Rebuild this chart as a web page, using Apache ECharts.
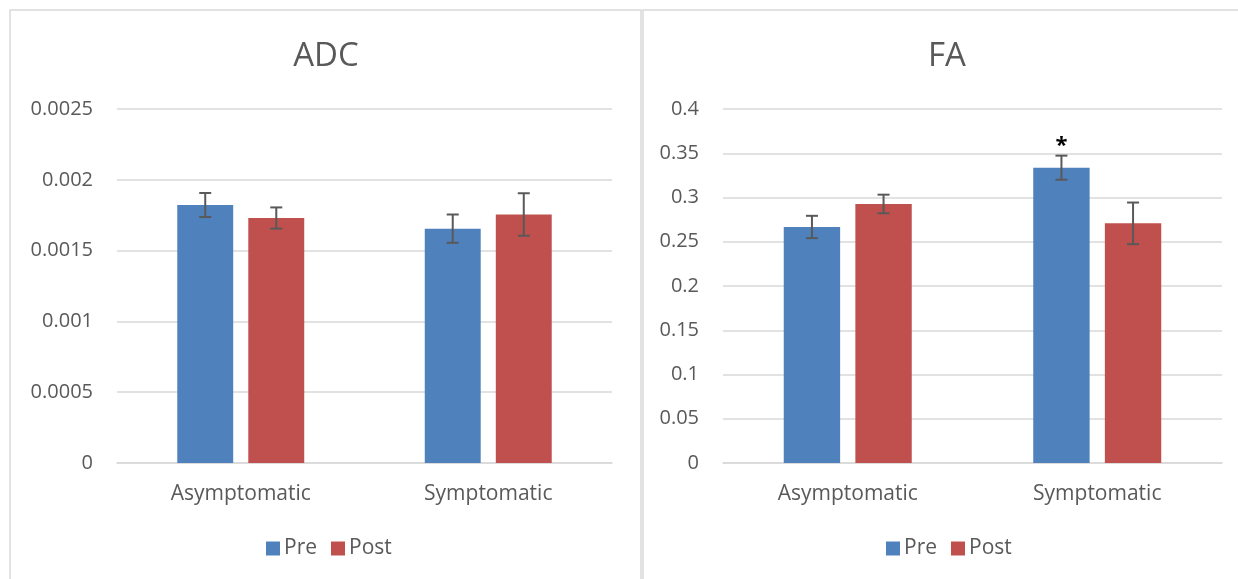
<!DOCTYPE html>
<html>
<head>
<meta charset="utf-8">
<script src="https://cdn.jsdelivr.net/npm/echarts@6/dist/echarts.min.js"></script>
<style>
html,body{margin:0;padding:0;background:#fff;}
#c{width:1238px;height:579px;}
</style>
</head>
<body>
<div id="c"></div>
<script>
const categories = ['Asymptomatic', 'Symptomatic'];
const seriesNames = ['Pre', 'Post'];
const adcPre = [0.001822, 0.001655];
const adcPost = [0.00173, 0.001755];
const adcPreErr = [0.000085, 0.0001];
const adcPostErr = [0.000075, 0.00015];
const faPre = [0.2667, 0.3337];
const faPost = [0.2927, 0.2708];
const faPreErr = [0.0126, 0.0136];
const faPostErr = [0.0105, 0.0235];
const faPreMarks = ['', '*'];
const faPostMarks = ['', ''];
const adcTicks = [0, 0.0005, 0.001, 0.0015, 0.002, 0.0025];
const faTicks = [0, 0.05, 0.1, 0.15, 0.2, 0.25, 0.3, 0.35, 0.4];

const BLUE = '#4F81BD', RED = '#C0504D', TXT = '#595959', GRID = '#D9D9D9';
const FONT = '"Open Sans", sans-serif';
const BAR_W = 0.226, GAP = 0.27;

function errSeries(name, gi, vals, errs, marks, side) {
  const data = vals.map((v, i) => [i, v, errs[i], marks[i]]);
  return {
    type: 'custom', name: name + ' err', xAxisIndex: gi, yAxisIndex: gi, z: 5,
    silent: true, tooltip: {show: false},
    data: data,
    renderItem: function (params, api) {
      const band = api.size([1, 0])[0];
      const bw = band * BAR_W;
      const off = side * (bw + bw * GAP) / 2;
      const v = api.value(1), e = api.value(2);
      const top = api.coord([api.value(0), v + e]);
      const bot = api.coord([api.value(0), v - e]);
      const x = top[0] + off;
      const cap = 6;
      const st = {stroke: '#595959', lineWidth: 2};
      const children = [
        {type: 'line', shape: {x1: x, y1: top[1], x2: x, y2: bot[1]}, style: st},
        {type: 'line', shape: {x1: x - cap, y1: top[1], x2: x + cap, y2: top[1]}, style: st},
        {type: 'line', shape: {x1: x - cap, y1: bot[1], x2: x + cap, y2: bot[1]}, style: st}
      ];
      const m = data[params.dataIndex][3];
      if (m) {
        children.push({type: 'text', style: {text: m, x: x, y: top[1] + 1, align: 'center', verticalAlign: 'bottom',
          fill: '#000', font: 'bold 22px ' + FONT}});
      }
      return {type: 'group', children: children};
    }
  };
}

function barSeries(name, gi, vals, color) {
  return {
    type: 'bar', name: name, xAxisIndex: gi, yAxisIndex: gi,
    barWidth: (BAR_W * 100) + '%', barGap: (GAP * 100) + '%',
    itemStyle: {color: color}, data: vals
  };
}

function yAxis(gi, ticks) {
  return {
    type: 'value', gridIndex: gi, min: ticks[0], max: ticks[ticks.length - 1],
    interval: ticks[1] - ticks[0],
    axisLine: {show: false}, axisTick: {show: false},
    splitLine: {lineStyle: {color: GRID, width: 1.5}},
    axisLabel: {color: TXT, fontSize: 20, fontFamily: FONT, margin: 24,
      formatter: v => String(+v.toFixed(6))}
  };
}
function xAxis(gi) {
  return {
    type: 'category', gridIndex: gi, data: categories,
    axisLine: {lineStyle: {color: GRID, width: 1.5}}, axisTick: {show: false},
    axisLabel: {color: TXT, fontSize: 21, fontFamily: FONT, margin: 21}
  };
}

const chart = echarts.init(document.getElementById('c'), null, {renderer: 'canvas'});
chart.setOption({
  animation: false,
  backgroundColor: '#fff',
  graphic: [
    {type: 'rect', shape: {x: 10, y: 10, width: 631, height: 640}, style: {fill: 'none', stroke: GRID, lineWidth: 1.5}, z: -10},
    {type: 'rect', shape: {x: 643, y: 10, width: 640, height: 640}, style: {fill: 'none', stroke: GRID, lineWidth: 1.5}, z: -10}
  ],
  title: [
    {text: 'ADC', left: 321, top: 35, textAlign: 'center', textStyle: {color: TXT, fontSize: 33, fontWeight: 'normal', fontFamily: FONT}},
    {text: 'FA', left: 942, top: 35, textAlign: 'center', textStyle: {color: TXT, fontSize: 33, fontWeight: 'normal', fontFamily: FONT}}
  ],
  legend: [
    {data: seriesNames, left: 261, top: 533, itemWidth: 14, itemHeight: 14, itemGap: 14, icon: 'rect',
      textStyle: {color: TXT, fontSize: 21, fontFamily: FONT, padding: [0, 0, 0, -1]}},
    {data: seriesNames, left: 881, top: 533, itemWidth: 14, itemHeight: 14, itemGap: 14, icon: 'rect',
      textStyle: {color: TXT, fontSize: 21, fontFamily: FONT, padding: [0, 0, 0, -1]}}
  ],
  grid: [
    {left: 117, right: 1238 - 612, top: 109, bottom: 579 - 463},
    {left: 723, right: 1238 - 1222, top: 109, bottom: 579 - 463}
  ],
  xAxis: [xAxis(0), xAxis(1)],
  yAxis: [yAxis(0, adcTicks), yAxis(1, faTicks)],
  series: [
    barSeries('Pre', 0, adcPre, BLUE),
    barSeries('Post', 0, adcPost, RED),
    barSeries('Pre', 1, faPre, BLUE),
    barSeries('Post', 1, faPost, RED),
    errSeries('Pre', 0, adcPre, adcPreErr, ['', ''], -1),
    errSeries('Post', 0, adcPost, adcPostErr, ['', ''], 1),
    errSeries('Pre', 1, faPre, faPreErr, faPreMarks, -1),
    errSeries('Post', 1, faPost, faPostErr, faPostMarks, 1)
  ]
});
</script>
</body>
</html>
